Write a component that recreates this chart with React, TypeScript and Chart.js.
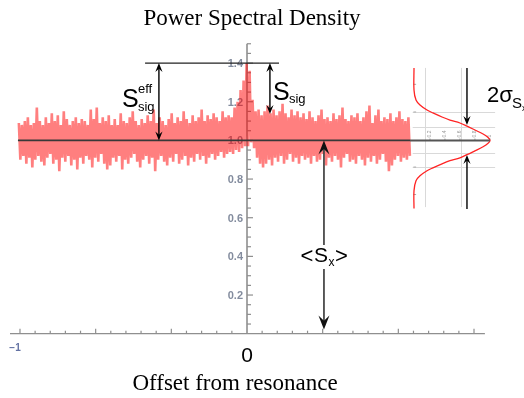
import React, { useEffect, useRef } from "react";
import { Chart, registerables } from "chart.js";

Chart.register(...registerables);

// ---------------- data ----------------
const titleText = "Power Spectral Density";
const xTitleText = "Offset from resonance";

// noisy PSD trace: per-sample upper / lower excursions on a regular offset grid
const bandStart = -1.005;
const bandStep = 0.0132;
const bandUpper = [
  1.09, 1.08, 1.10, 1.12, 1.08, 1.09, 1.17, 1.10, 1.08, 1.12,
  1.09, 1.14, 1.10, 1.13, 1.08, 1.15, 1.11, 1.08, 1.10, 1.12,
  1.09, 1.11, 1.10, 1.08, 1.16, 1.11, 1.17, 1.09, 1.12, 1.10,
  1.13, 1.08, 1.11, 1.08, 1.14, 1.10, 1.09, 1.12, 1.15, 1.10,
  1.08, 1.11, 1.09, 1.13, 1.10, 1.16, 1.09, 1.12, 1.10, 1.08,
  1.11, 1.14, 1.09, 1.12, 1.10, 1.15, 1.11, 1.09, 1.13, 1.10,
  1.12, 1.16, 1.10, 1.13, 1.11, 1.14, 1.12, 1.10, 1.15, 1.12,
  1.13, 1.12, 1.17, 1.20, 1.26, 1.31, 1.40, 1.36, 1.21, 1.15,
  1.16, 1.13, 1.15, 1.18, 1.14, 1.16, 1.13, 1.15, 1.19, 1.14,
  1.12, 1.16, 1.13, 1.15, 1.12, 1.14, 1.11, 1.15, 1.12, 1.10,
  1.13, 1.16, 1.11, 1.12, 1.10, 1.14, 1.11, 1.13, 1.17, 1.11,
  1.10, 1.13, 1.12, 1.14, 1.10, 1.12, 1.15, 1.18, 1.09, 1.13,
  1.16, 1.10, 1.12, 1.11, 1.14, 1.10, 1.12, 1.15, 1.11, 1.10, 1.12,
];
const bandLower = [
  0.90, 0.92, 0.88, 0.91, 0.86, 0.90, 0.92, 0.89, 0.87, 0.91,
  0.93, 0.88, 0.90, 0.84, 0.91, 0.89, 0.92, 0.87, 0.90, 0.85,
  0.91, 0.88, 0.92, 0.90, 0.86, 0.91, 0.89, 0.93, 0.88, 0.85,
  0.87, 0.91, 0.89, 0.92, 0.85, 0.90, 0.88, 0.91, 0.93, 0.89,
  0.86, 0.90, 0.92, 0.88, 0.91, 0.84, 0.90, 0.92, 0.89, 0.87,
  0.91, 0.89, 0.93, 0.88, 0.90, 0.92, 0.87, 0.91, 0.89, 0.93,
  0.90, 0.92, 0.88, 0.91, 0.93, 0.90, 0.92, 0.94, 0.91, 0.93,
  0.94, 0.93, 0.95, 0.94, 0.96, 0.97, 0.97, 0.99, 0.96, 0.91,
  0.88, 0.86, 0.88, 0.90, 0.87, 0.91, 0.89, 0.92, 0.88, 0.90,
  0.93, 0.89, 0.91, 0.88, 0.92, 0.90, 0.91, 0.88, 0.92, 0.89,
  0.90, 0.93, 0.87, 0.91, 0.89, 0.92, 0.90, 0.86, 0.91, 0.93,
  0.89, 0.90, 0.88, 0.92, 0.90, 0.87, 0.91, 0.89, 0.92, 0.88,
  0.90, 0.93, 0.89, 0.84, 0.87, 0.90, 0.92, 0.89, 0.91, 0.90, 0.92,
];

// inset: distribution of the PSD (sideways), amplitude along x, level along y
const gaussAmp = [
  0.7357, 0.7357, 0.7445, 0.762, 0.793, 0.819, 0.859, 0.894, 0.938, 0.969, 1.004, 1.040, 1.062, 1.0705,
  1.062, 1.040, 1.004, 0.969, 0.938, 0.894, 0.859, 0.819, 0.793, 0.762, 0.7445, 0.7357, 0.7357,
];
const gaussLevel = [
  1.374, 1.26, 1.209, 1.183, 1.157, 1.142, 1.121, 1.105, 1.090, 1.074, 1.054, 1.033, 1.015, 1.0,
  0.985, 0.967, 0.946, 0.926, 0.910, 0.895, 0.879, 0.858, 0.843, 0.817, 0.791, 0.74, 0.648,
];
const insetGridX = [0.784, 0.943];
const insetGridY = [1.147, 1.069, 0.935, 0.862];
const insetTickLabels = ["0.2", "0.4", "0.6", "0.8", "1"];
const insetTickX = [0.806, 0.872, 0.938, 1.004, 1.070];

// axes
const xMin = -1.044;
const xMax = 1.1145;
const xAxisEnd = 1.048;
const yMin = 0;
const yMax = 1.5;
const yTickValues = [0.2, 0.4, 0.6, 0.8, 1.0, 1.2, 1.4];
const yTickLabels = ["0.2", "0.4", "0.6", "0.8", "1.0", "1.2", "1.4"];
const xTickLabels = ["\u22121", "0"];

// annotations
const baseLevel = 1.0;
const peakLevel = 1.4;
const baseLineFrom = -1.009;
const baseLineTo = 0.718;
const insetAxisTo = 1.07;
const peakLineFrom = -0.449;
const peakLineTo = 0.141;
const sEffX = -0.388;
const sSigX = 0.101;
const sSigBottom = 1.136;
const sxX = 0.339;
const sxBottom = 0.022;
const sigmaX = 0.969;
const sigmaTopStart = 1.374;
const sigmaTopTip = 1.08;
const sigmaBotStart = 0.645;
const sigmaBotTip = 0.925;

// --------------- drawing helpers ---------------
function seg(ctx: CanvasRenderingContext2D, x1: number, y1: number, x2: number, y2: number) {
  ctx.beginPath();
  ctx.moveTo(x1, y1);
  ctx.lineTo(x2, y2);
  ctx.stroke();
}

function head(ctx: CanvasRenderingContext2D, x: number, y: number, dir: number, len: number, half: number) {
  ctx.beginPath();
  ctx.moveTo(x, y);
  ctx.lineTo(x - half, y - dir * len);
  ctx.lineTo(x, y - dir * len * 0.62);
  ctx.lineTo(x + half, y - dir * len);
  ctx.closePath();
  ctx.fill();
}

const SANS = '"Liberation Sans", Arial, sans-serif';
const SERIF = '"Liberation Serif", "Times New Roman", serif';

const decor = {
  id: "decor",
  beforeDatasetsDraw(chart: any) {
    const { ctx, scales } = chart;
    const X = (v: number) => scales.x.getPixelForValue(v);
    const Y = (v: number) => scales.y.getPixelForValue(v);
    ctx.save();

    // inset grid
    ctx.strokeStyle = "#d9d9d9";
    ctx.lineWidth = 1;
    insetGridX.forEach((g) => seg(ctx, Math.round(X(g)) + 0.5, Y(1.375), Math.round(X(g)) + 0.5, Y(0.655)));
    insetGridY.forEach((g) => seg(ctx, X(0.73), Math.round(Y(g)) + 0.5, X(1.093), Math.round(Y(g)) + 0.5));
    // inset tiny ticks
    ctx.strokeStyle = "#aaaaaa";
    [1.29, 1.147, 0.862, 0.72].forEach((g) => seg(ctx, X(0.733), Y(g), X(0.745), Y(g)));
    ctx.fillStyle = "#9a9a9a";
    ctx.font = `5px ${SANS}`;
    insetTickLabels.forEach((t, i) => {
      ctx.save();
      ctx.translate(X(insetTickX[i]), Y(1.015));
      ctx.rotate(-Math.PI / 2);
      ctx.textAlign = "left";
      ctx.textBaseline = "middle";
      ctx.fillText(t, 0, 0);
      ctx.restore();
      seg(ctx, X(insetTickX[i]), Y(1.0), X(insetTickX[i]), Y(1.01));
    });

    // axes
    const axisCol = "#8f8f8f";
    ctx.strokeStyle = axisCol;
    ctx.lineWidth = 1.2;
    const y0 = Y(0);
    seg(ctx, X(xMin), y0, X(xAxisEnd), y0);
    for (let k = -15; k <= 15; k++) {
      if (k === 0) continue;
      const px = X(k / 15);
      const h = k % 5 === 0 ? 5 : 3;
      seg(ctx, px, y0, px, y0 - h);
    }
    ctx.lineWidth = 1.6;
    const x0 = X(0);
    seg(ctx, x0, y0, x0, Y(yMax));
    ctx.lineWidth = 1.2;
    for (let k = 1; k <= 30; k++) {
      const py = Y(k * 0.05);
      const len = k % 4 === 0 ? 6 : 4;
      seg(ctx, x0, py, x0 + len, py);
    }
    // y tick labels
    ctx.fillStyle = "#838c9e";
    ctx.font = `bold 11px ${SANS}`;
    ctx.textAlign = "right";
    ctx.textBaseline = "middle";
    yTickValues.forEach((v, i) => ctx.fillText(yTickLabels[i], x0 - 4, Y(v) + 1));
    // -1 label
    ctx.fillStyle = "#6372a3";
    ctx.font = `bold 10px ${SANS}`;
    ctx.textAlign = "center";
    ctx.textBaseline = "alphabetic";
    ctx.fillText(xTickLabels[0], X(-1) - 5, y0 + 17);
    ctx.restore();
  },
  afterDatasetsDraw(chart: any) {
    const { ctx, scales } = chart;
    const X = (v: number) => scales.x.getPixelForValue(v);
    const Y = (v: number) => scales.y.getPixelForValue(v);
    ctx.save();

    // reference lines
    ctx.strokeStyle = "#383838";
    ctx.lineWidth = 1.6;
    seg(ctx, X(baseLineFrom), Y(baseLevel), X(baseLineTo), Y(baseLevel));
    ctx.strokeStyle = "#555555";
    ctx.lineWidth = 2;
    seg(ctx, X(baseLineTo), Y(baseLevel), X(insetAxisTo), Y(baseLevel));
    ctx.strokeStyle = "#222222";
    ctx.lineWidth = 1.2;
    seg(ctx, X(peakLineFrom), Y(peakLevel), X(peakLineTo), Y(peakLevel));

    // double arrows
    ctx.fillStyle = "#000";
    ctx.strokeStyle = "#000";
    ctx.lineWidth = 1.4;
    const dbl = (xv: number, top: number, bot: number) => {
      const px = X(xv);
      const t = Y(top);
      const b = Y(bot);
      seg(ctx, px, t + 5, px, b - 5);
      head(ctx, px, t, -1, 9, 3.6);
      head(ctx, px, b, 1, 9, 3.6);
    };
    dbl(sEffX, peakLevel, baseLevel);
    dbl(sSigX, peakLevel, sSigBottom);

    // <S_x> arrow (gray line, larger heads), gap for label
    const sxp = X(sxX);
    ctx.strokeStyle = "#4a4a4a";
    ctx.lineWidth = 1.8;
    seg(ctx, sxp, Y(baseLevel) + 8, sxp, Y(sxBottom) - 8);
    ctx.fillStyle = "#111";
    head(ctx, sxp, Y(baseLevel), -1, 14, 5.5);
    head(ctx, sxp, Y(sxBottom), 1, 14, 5.5);

    // sigma arrows
    ctx.strokeStyle = "#000";
    ctx.fillStyle = "#000";
    ctx.lineWidth = 1.4;
    const sgx = X(sigmaX);
    seg(ctx, sgx, Y(sigmaTopStart), sgx, Y(sigmaTopTip) - 5);
    head(ctx, sgx, Y(sigmaTopTip), 1, 9, 3.6);
    seg(ctx, sgx, Y(sigmaBotStart), sgx, Y(sigmaBotTip) + 5);
    head(ctx, sgx, Y(sigmaBotTip), -1, 9, 3.6);

    // ---- texts ----
    ctx.fillStyle = "#000";
    ctx.textBaseline = "alphabetic";
    ctx.textAlign = "left";
    // S_sig^eff
    const ex = X(sEffX);
    ctx.font = `25px ${SANS}`;
    ctx.fillText("S", ex - 37, 107);
    ctx.font = `13px ${SANS}`;
    ctx.fillText("eff", ex - 21, 93);
    ctx.fillText("sig", ex - 21, 111);
    // S_sig
    const sx = X(sSigX);
    ctx.font = `25px ${SANS}`;
    ctx.fillText("S", sx + 3, 100);
    ctx.font = `13px ${SANS}`;
    ctx.fillText("sig", sx + 19, 103);
    // <S_x> label with white background
    ctx.fillStyle = "#fff";
    ctx.fillRect(sxp - 23, 245, 48, 24);
    ctx.fillStyle = "#000";
    ctx.textAlign = "center";
    ctx.font = `22px ${SANS}`;
    ctx.fillText("<", sxp - 17, 263);
    ctx.fillText(">", sxp + 17.5, 263);
    ctx.font = `21px ${SANS}`;
    ctx.fillText("S", sxp - 3, 262);
    ctx.font = `12px ${SANS}`;
    ctx.fillText("x", sxp + 7.5, 266);
    // 2 sigma
    ctx.textAlign = "left";
    ctx.font = `22px ${SANS}`;
    ctx.fillText("2\u03c3", 487, 102);
    ctx.font = `15px ${SANS}`;
    ctx.fillText("S", 512, 108);
    ctx.font = `9px ${SANS}`;
    ctx.fillText("x", 522, 111);

    // "0" tick label
    ctx.textAlign = "center";
    ctx.font = `21px ${SANS}`;
    ctx.fillText(xTickLabels[1], X(0), 362);

    // titles
    ctx.font = `23px ${SERIF}`;
    ctx.fillText(titleText, 252, 25);
    ctx.fillText(xTitleText, 235, 390);
    ctx.restore();
  },
};

export default function App() {
  const ref = useRef<HTMLCanvasElement>(null);
  useEffect(() => {
    if (!ref.current) return;
    // dense trace: each sample swings to its upper then its lower excursion
    const tracePts: { x: number; y: number }[] = [];
    bandUpper.forEach((u, i) => {
      const x = bandStart + i * bandStep;
      tracePts.push({ x, y: u });
      tracePts.push({ x: x + bandStep / 2, y: bandLower[i] });
    });
    const gaussPts = gaussAmp.map((a, i) => ({ x: a, y: gaussLevel[i] }));
    const chart = new Chart(ref.current, {
      type: "line",
      data: {
        datasets: [
          {
            data: tracePts,
            borderColor: "rgba(255,0,0,0.5)",
            borderWidth: 2.6,
            borderJoinStyle: "miter",
            fill: false,
            tension: 0,
            pointRadius: 0,
          },
          {
            data: gaussPts,
            borderColor: "#ff2424",
            borderWidth: 1.3,
            tension: 0.35,
            fill: false,
            pointRadius: 0,
            clip: false as any,
          },
        ],
      } as any,
      options: {
        responsive: false,
        devicePixelRatio: 1,
        animation: false,
        events: [],
        layout: { padding: { left: 10, right: 24, top: 43.75, bottom: 64.3 } },
        scales: {
          x: { type: "linear", min: xMin, max: xMax, display: false },
          y: { type: "linear", min: yMin, max: yMax, display: false },
        },
        plugins: { legend: { display: false }, tooltip: { enabled: false }, title: { display: false } },
      } as any,
      plugins: [decor as any],
    });
    return () => chart.destroy();
  }, []);
  return (
    <div style={{ position: "fixed", left: 0, top: 0, width: 524, height: 398, background: "#fff" }}>
      <canvas ref={ref} width={524} height={398} style={{ display: "block", width: 524, height: 398 }} />
    </div>
  );
}
